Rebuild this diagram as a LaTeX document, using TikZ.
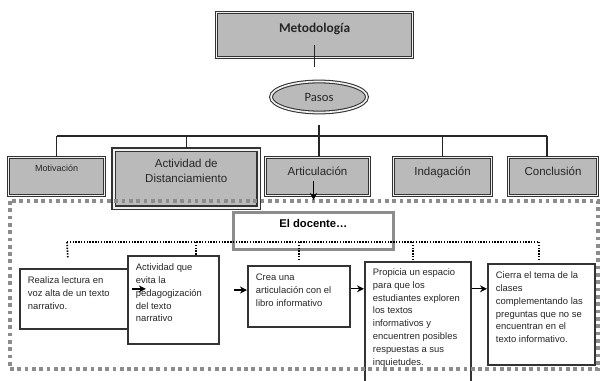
\documentclass[tikz,border=0pt]{standalone}
\usepackage{fontspec}
\setmainfont{Liberation Sans}
\newfontfamily\carlito{Carlito}
\usetikzlibrary{shapes.geometric,arrows.meta}

\newcommand{\texto}[3]{\parbox[c][#1][t]{#2}{\raggedright #3}}

\tikzset{
  fase/.style={draw=black!80, double=black!6, double distance=1.2pt, line width=0.75pt, fill=black!27, anchor=north west, inner sep=0pt},
  rotulo/.style={anchor=north, inner sep=0pt, align=center, text=black!85},
  caja/.style={draw=black!80, line width=1.3pt, fill=white, anchor=north west, inner sep=0.2cm, text=black!85, font=\fontsize{6.7}{9.1}\selectfont},
  marco/.style={draw=black!45, line width=2.6pt, dash pattern=on 2.6pt off 2.6pt},
  puntos/.style={line width=1.2pt, dash pattern=on 1pt off 1pt},
  rama/.style={draw=black!85, line width=0.8pt},
  flecha/.style={-{Stealth[length=5pt,width=5pt]}, line width=0.9pt},
}

\begin{document}
\begin{tikzpicture}[x=0.025cm, y=-0.025cm]
\useasboundingbox (0,0) rectangle (600,381);

% title and steps
\node[fase, minimum width=4.9cm, minimum height=1.125cm, label={[rotulo, yshift=-0.28cm, font={\carlito\bfseries\fontsize{9.5}{11}\selectfont}]north:Metodología}] (metod) at (216,12) {};
\node[fase, ellipse, anchor=center, minimum width=2.4cm, minimum height=0.775cm, text=black!85, font={\carlito\fontsize{9}{11}\selectfont}] (pasos) at (319,97) {Pasos};

% phases
\node[fase, minimum width=2.4cm, minimum height=0.95cm, label={[rotulo, yshift=-0.2cm, font={\fontsize{6.4}{8}\selectfont}]north:Motivación}] (motiv) at (8,157) {};
\node[fase, line width=1pt, minimum width=3.625cm, minimum height=1.45cm, label={[rotulo, yshift=-0.24cm, font={\fontsize{8.2}{10.7}\selectfont}]north:Actividad de\\Distanciamiento}] (activ) at (113,149) {};
\node[fase, minimum width=2.6cm, minimum height=0.95cm, label={[rotulo, yshift=-0.25cm, font={\fontsize{8.2}{10}\selectfont}]north:Articulación}] (artic) at (265,157) {};
\node[fase, minimum width=2.45cm, minimum height=0.95cm, label={[rotulo, yshift=-0.25cm, font={\fontsize{8.2}{10}\selectfont}]north:Indagación}] (indag) at (393,157) {};
\node[fase, minimum width=2.225cm, minimum height=0.95cm, label={[rotulo, yshift=-0.25cm, font={\fontsize{8.2}{10}\selectfont}]north:Conclusión}] (concl) at (508,157) {};

% tree
\draw[rama] ([yshift=0.325cm]metod.south) -- ([yshift=0.35cm]metod.south |- pasos.north);
\draw[rama] ([yshift=-0.3cm]pasos.south) -- (pasos.south |- artic.north);
\coordinate (bi) at (57,136);
\coordinate (bd) at (547,136);
\draw[rama] (bi) -- (bd);
\draw[rama] (motiv.north |- bi) -- (motiv.north);
\draw[rama] (activ.north |- bi) -- (activ.north);
\draw[rama] (indag.north |- bi) -- (indag.north);
\draw[rama] (bd) -- (bd |- concl.north);

% the teacher
\node[draw=black!45, line width=2pt, fill=white, anchor=north west, minimum width=4cm, minimum height=0.925cm, label={[rotulo, yshift=-0.2cm, text=black, font={\bfseries\fontsize{8}{10}\selectfont}]north:El docente…}] (docente) at (232,211) {};

% activities
\node[caja] (b1) at (19,268) {\texto{1.1cm}{2.375cm}{Realiza lectura en\\voz alta de un texto\\narrativo.}};
\node[caja] (b2) at (127,255) {\texto{1.8cm}{1.875cm}{Actividad que\\evita la\\pedagogización\\del texto\\narrativo}};
\node[caja] (b3) at (247,265) {\texto{1.125cm}{2.15cm}{Crea una\\articulación con el\\libro informativo}};
\node[caja, inner ysep=0.17cm] (b4) at (364,261) {\texto{3.14cm}{2.25cm}{Propicia un espacio\\para que los\\estudiantes exploren\\los textos\\informativos y\\encuentren posibles\\respuestas a sus\\inquietudes.}};
\node[caja] (b5) at (487,263) {\texto{2.125cm}{2.275cm}{Cierra el tema de la\\clases\\complementando las\\preguntas que no se\\encuentran en el\\texto informativo.}};

% frame
\draw[marco] (10,201) rectangle (598,369);

% dotted links
\coordinate (izq) at (67,242);
\coordinate (der) at (539,242);
\draw[puntos] (izq) -- (der);
\draw[puntos] (izq) -- ([xshift=-0.19cm, yshift=0.25cm]b1.north);
\draw[puntos] ([xshift=0.56cm]b2.north |- izq) -- ([xshift=0.56cm]b2.north);
\draw[puntos] (b3.north |- izq) -- ([yshift=0.125cm]b3.north);
\draw[puntos] ([xshift=-0.125cm]b4.north |- izq) -- ([xshift=-0.125cm]b4.north);
\draw[puntos] (der) -- ([yshift=0.075cm]der |- b5.north);

% arrows
\draw[flecha] ([xshift=-0.1cm, yshift=0.375cm]artic.south) -- ([xshift=-0.1cm]artic.south |- 0,200);
\draw[flecha] ([yshift=0.25cm]b1.east) -- ++(0.35cm,0);
\draw[flecha] ([xshift=-0.33cm, yshift=0.16cm]b3.west) -- ([yshift=0.16cm]b3.west);
\draw[flecha] ([yshift=0.19cm]b3.east) -- ([yshift=0.19cm]b3.east -| b4.west);
\draw[flecha] ([yshift=0.64cm]b5.west -| b4.east) -- ([yshift=0.64cm]b5.west);
\end{tikzpicture}
\end{document}
